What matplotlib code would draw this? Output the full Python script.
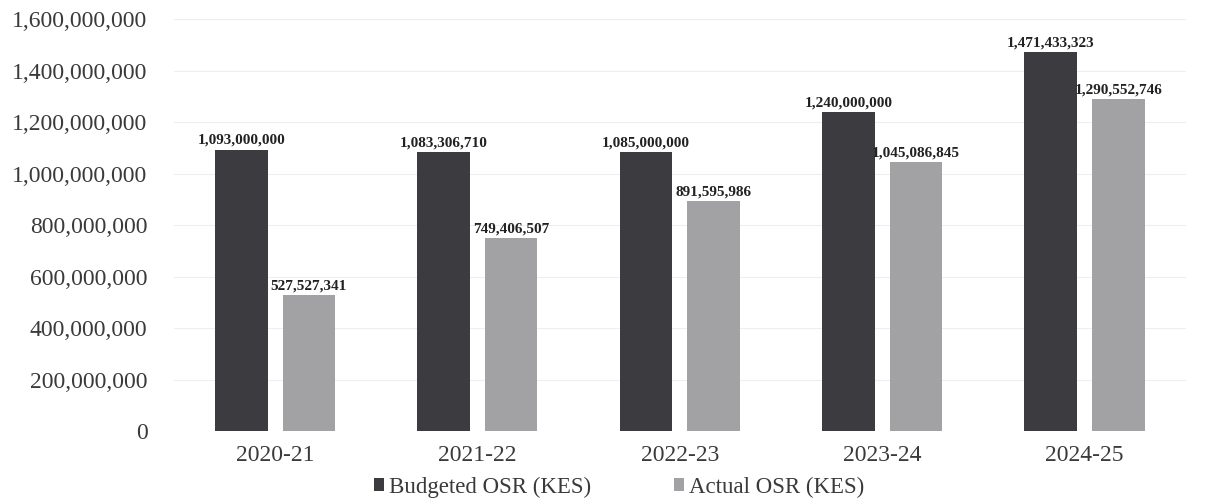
import matplotlib
matplotlib.use("Agg")
import matplotlib.pyplot as plt
import numpy as np
from matplotlib.ticker import FuncFormatter

years = ["2020-21", "2021-22", "2022-23", "2023-24", "2024-25"]
budgeted = [1093000000, 1083306710, 1085000000, 1240000000, 1471433323]
actual = [527527341, 749406507, 891595986, 1045086845, 1290552746]
series_names = ["Budgeted OSR (KES)", "Actual OSR (KES)"]

plt.rcParams['font.family'] = ['Liberation Serif', 'DejaVu Serif']

fig = plt.figure(figsize=(12.16, 4.98), dpi=100)
ax = fig.add_axes([0.143, 0.1345, 0.832, 0.8273])

x = np.arange(len(years))
w = 0.26
off = 0.167
c_b = "#3c3c40"
c_a = "#a2a2a4"
b1 = ax.bar(x - off, budgeted, w, color=c_b, label=series_names[0], zorder=2)
b2 = ax.bar(x + off, actual, w, color=c_a, label=series_names[1], zorder=2)

for xi, v in zip(x - off, budgeted):
    ax.text(xi, v + 10e6, f"{v:,}", ha="center", va="bottom", fontsize=11,
            fontweight="bold", color="#222222")
for xi, v in zip(x + off, actual):
    ax.text(xi, v + 10e6, f"{v:,}", ha="center", va="bottom", fontsize=11,
            fontweight="bold", color="#222222")

ax.set_xlim(-0.5, len(years) - 0.5)
ax.set_ylim(0, 1600000000)
ax.set_yticks(np.arange(0, 1600000001, 200000000))
ax.yaxis.set_major_formatter(FuncFormatter(lambda v, p: f"{int(v):,}"))
ax.set_xticks(x)
ax.set_xticklabels(years)
ax.tick_params(axis="both", length=0, labelsize=17, labelcolor="#3a3a3a")
ax.tick_params(axis="y", pad=19)
ax.tick_params(axis="x", pad=10)
ax.grid(axis="y", color="#eeeeee", linewidth=0.8, zorder=0)
for s in ax.spines.values():
    s.set_visible(False)

fig.legend(handles=[b1, b2], labels=series_names, loc="center",
           bbox_to_anchor=(0.509, 0.022), ncol=2, frameon=False, fontsize=16.5,
           handlelength=0.45, handleheight=0.45, handletextpad=0.2,
           columnspacing=3.6, labelcolor="#3a3a3a")

fig.savefig("out.png", dpi=100)
